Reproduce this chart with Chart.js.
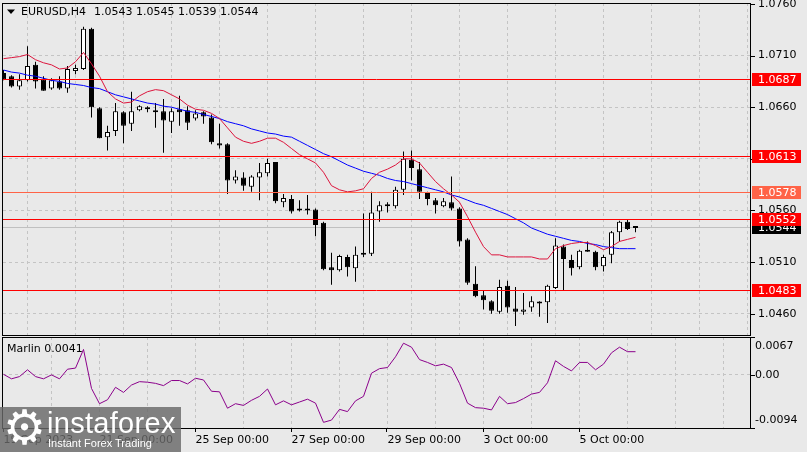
<!DOCTYPE html>
<html>
<head>
<meta charset="utf-8">
<script src="https://cdn.jsdelivr.net/npm/chart.js@4.4.0/dist/chart.umd.min.js"></script>
<style>
  html, body { margin: 0; padding: 0; background: #e9e9e9; }
  #wrap { position: relative; width: 807px; height: 452px; overflow: hidden; background: #e9e9e9; }
  #mainBox { position: absolute; left: 0; top: 0; width: 807px; height: 337px; }
  #subBox { position: absolute; left: 0; top: 337px; width: 807px; height: 115px; }
  #logo {
    position: absolute; left: 0; top: 407px; width: 181px; height: 45px;
    background: rgba(105, 105, 105, 0.82); color: #fff;
    font-family: "Liberation Sans", Arial, sans-serif;
  }
  #logo .gear { position: absolute; left: 3px; top: -6px; font-family: "DejaVu Sans"; font-size: 48px; line-height: 52px; }
  #logo .name { position: absolute; left: 47px; top: 0px; font-size: 29px; line-height: 32px; letter-spacing: 0.3px; }
  #logo .sub { position: absolute; left: 48px; top: 29px; font-size: 11px; line-height: 14px; }
</style>
</head>
<body>
<div id="wrap">
  <div id="mainBox"><canvas id="mainChart"></canvas></div>
  <div id="subBox"><canvas id="subChart"></canvas></div>
  <div id="logo"><span class="gear">⚙</span><span class="name">instaforex</span><span class="sub">Instant Forex Trading</span></div>
</div>
<script>
// EURUSD H4 candles, 19 Sep 2023 00:00 onwards (one entry per bar)
const opens = [
  1.0693, 1.0690, 1.0680, 1.0686, 1.0701, 1.0687, 1.0678, 1.0685, 1.0678, 1.0695,
  1.0697, 1.0736, 1.0659, 1.0631, 1.0637, 1.0655, 1.0644, 1.0657, 1.0660, 1.0657,
  1.0656, 1.0646, 1.0658, 1.0657, 1.0649, 1.0655, 1.0650, 1.0625, 1.0624, 1.0589,
  1.0592, 1.0583, 1.0592, 1.0596, 1.0607, 1.0568, 1.0571, 1.0561, 1.0561, 1.0561,
  1.0548, 1.0505, 1.0502, 1.0515, 1.0504, 1.0519, 1.0518, 1.0559, 1.0564, 1.0564,
  1.0580, 1.0609, 1.0600, 1.0577, 1.0570, 1.0564, 1.0568, 1.0562, 1.0532, 1.0489,
  1.0478, 1.0472, 1.0462, 1.0487, 1.0465, 1.0462, 1.0466, 1.0471, 1.0471, 1.0485,
  1.0525, 1.0512, 1.0505, 1.0522, 1.0520, 1.0506, 1.0517, 1.0539, 1.0549, 1.0543
];
const highs = [
  1.0696, 1.0691, 1.0692, 1.0719, 1.0704, 1.0690, 1.0688, 1.0690, 1.0700, 1.0701,
  1.0738, 1.0737, 1.0660, 1.0642, 1.0664, 1.0656, 1.0675, 1.0662, 1.0661, 1.0664,
  1.0668, 1.0659, 1.0671, 1.0661, 1.0657, 1.0656, 1.0653, 1.0644, 1.0625, 1.0599,
  1.0597, 1.0594, 1.0606, 1.0610, 1.0607, 1.0576, 1.0575, 1.0570, 1.0575, 1.0562,
  1.0549, 1.0519, 1.0517, 1.0517, 1.0525, 1.0557, 1.0578, 1.0569, 1.0568, 1.0583,
  1.0617, 1.0618, 1.0607, 1.0578, 1.0572, 1.0572, 1.0593, 1.0563, 1.0533, 1.0506,
  1.0482, 1.0473, 1.0493, 1.0492, 1.0486, 1.0480, 1.0477, 1.0472, 1.0488, 1.0533,
  1.0527, 1.0517, 1.0522, 1.0530, 1.0521, 1.0517, 1.0540, 1.0550, 1.0551, 1.0545
];
const lows = [
  1.0686, 1.0679, 1.0677, 1.0685, 1.0678, 1.0676, 1.0677, 1.0677, 1.0674, 1.0692,
  1.0696, 1.0650, 1.0630, 1.0618, 1.0632, 1.0625, 1.0637, 1.0656, 1.0655, 1.0640,
  1.0616, 1.0635, 1.0642, 1.0638, 1.0647, 1.0644, 1.0624, 1.0620, 1.0576, 1.0586,
  1.0579, 1.0578, 1.0570, 1.0593, 1.0567, 1.0563, 1.0557, 1.0559, 1.0556, 1.0535,
  1.0502, 1.0488, 1.0501, 1.0496, 1.0491, 1.0515, 1.0516, 1.0549, 1.0558, 1.0562,
  1.0575, 1.0589, 1.0571, 1.0565, 1.0557, 1.0563, 1.0560, 1.0525, 1.0488, 1.0476,
  1.0464, 1.0460, 1.0460, 1.0461, 1.0448, 1.0459, 1.0462, 1.0457, 1.0451, 1.0484,
  1.0483, 1.0497, 1.0503, 1.0520, 1.0502, 1.0501, 1.0509, 1.0530, 1.0541, 1.0539
];
const closes = [
  1.0687, 1.0680, 1.0686, 1.0700, 1.0685, 1.0676, 1.0686, 1.0678, 1.0697, 1.0698,
  1.0736, 1.0660, 1.0630, 1.0636, 1.0656, 1.0642, 1.0656, 1.0661, 1.0658, 1.0655,
  1.0647, 1.0656, 1.0655, 1.0645, 1.0654, 1.0651, 1.0626, 1.0623, 1.0589, 1.0593,
  1.0584, 1.0593, 1.0597, 1.0606, 1.0569, 1.0572, 1.0559, 1.0560, 1.0560, 1.0546,
  1.0503, 1.0502, 1.0516, 1.0505, 1.0517, 1.0517, 1.0558, 1.0565, 1.0565, 1.0580,
  1.0610, 1.0601, 1.0578, 1.0571, 1.0565, 1.0569, 1.0562, 1.0530, 1.0490, 1.0477,
  1.0473, 1.0463, 1.0486, 1.0466, 1.0462, 1.0464, 1.0472, 1.0470, 1.0487, 1.0526,
  1.0513, 1.0504, 1.0521, 1.0520, 1.0505, 1.0515, 1.0539, 1.0549, 1.0542, 1.0544
];
// fast (red) and slow (blue) moving averages as drawn
const maFast = [
  1.0707, 1.0708, 1.0709, 1.0711, 1.0706, 1.0703, 1.0701, 1.0697, 1.0698, 1.0704,
  1.0713, 1.0702, 1.0690, 1.0675, 1.0668, 1.0664, 1.0665, 1.0671, 1.0675, 1.0677,
  1.0676, 1.0672, 1.0668, 1.0662, 1.0658, 1.0657, 1.0654, 1.0649, 1.0640, 1.0631,
  1.0627, 1.0625, 1.0627, 1.0630, 1.0630, 1.0626, 1.0620, 1.0614, 1.0610, 1.0606,
  1.0597, 1.0584, 1.0580, 1.0578, 1.0579, 1.0581, 1.0591, 1.0597, 1.0600, 1.0604,
  1.0610, 1.0610, 1.0606, 1.0597, 1.0588, 1.0581, 1.0575, 1.0568, 1.0554, 1.0539,
  1.0525, 1.0517, 1.0517, 1.0515, 1.0515, 1.0515, 1.0515, 1.0513, 1.0513, 1.0523,
  1.0526, 1.0528, 1.0529, 1.0529, 1.0526, 1.0522, 1.0525, 1.0530, 1.0532, 1.0534
];
const maSlow = [
  1.0696, 1.0694, 1.0693, 1.0691, 1.0690, 1.0688, 1.0686, 1.0685, 1.0683, 1.0682,
  1.0681, 1.0679, 1.0678, 1.0675, 1.0672, 1.0670, 1.0668, 1.0666, 1.0664, 1.0663,
  1.0661, 1.0660, 1.0658, 1.0656, 1.0655, 1.0653, 1.0651, 1.0649, 1.0646, 1.0644,
  1.0642, 1.0639, 1.0637, 1.0635, 1.0634, 1.0632, 1.0631, 1.0627, 1.0623, 1.0619,
  1.0615, 1.0612, 1.0608, 1.0604, 1.0601, 1.0598, 1.0596, 1.0594, 1.0591, 1.0589,
  1.0588, 1.0586, 1.0584, 1.0582, 1.0580, 1.0578, 1.0575, 1.0573, 1.0570, 1.0567,
  1.0565, 1.0562, 1.0559, 1.0556, 1.0552, 1.0548, 1.0543, 1.0540, 1.0537, 1.0535,
  1.0533, 1.0531, 1.0530, 1.0528, 1.0527, 1.0525, 1.0524, 1.0523, 1.0523, 1.0523
];
// Marlin oscillator (lower window)
const marlin = [
  0.0001, -0.0007, -0.0003, 0.0009, -0.0003, -0.0007, 0.0000, -0.0007, 0.0010, 0.0012,
  0.0045, -0.0024, -0.0051, -0.0044, -0.0022, -0.0031, -0.0018, -0.0012, -0.0013, -0.0015,
  -0.0019, -0.0010, -0.0010, -0.0016, -0.0006, -0.0009, -0.0029, -0.0030, -0.0059, -0.0051,
  -0.0054, -0.0045, -0.0038, -0.0025, -0.0053, -0.0046, -0.0053, -0.0048, -0.0043, -0.0050,
  -0.0084, -0.0080, -0.0061, -0.0065, -0.0046, -0.0038, 0.0003, 0.0011, 0.0013, 0.0032,
  0.0056, 0.0049, 0.0027, 0.0022, 0.0016, 0.0019, 0.0013, -0.0015, -0.0050, -0.0058,
  -0.0059, -0.0062, -0.0038, -0.0051, -0.0049, -0.0042, -0.0034, -0.0031, -0.0014, 0.0025,
  0.0015, 0.0007, 0.0022, 0.0022, 0.0009, 0.0019, 0.0039, 0.0049, 0.0041, 0.0041
];

// horizontal levels drawn on the chart
const levels = [1.0687, 1.0613, 1.0578, 1.0552, 1.0483];
const levelColors = ['#ff0000', '#ff0000', '#ff6347', '#ff0000', '#ff0000'];
const bidPrice = 1.0544;

// axis ticks
const priceTicks = [1.0460, 1.0510, 1.0560, 1.0610, 1.0660, 1.0710, 1.0760];
const marlinTicks = [0.0067, 0, -0.0094];
const timeTickIndex = [0, 12, 24, 36, 48, 60, 72];
const timeTickLabels = ['19 Sep 2023', '21 Sep 00:00', '25 Sep 00:00', '27 Sep 00:00',
  '29 Sep 00:00', '3 Oct 00:00', '5 Oct 00:00'];

const symbolTitle = 'EURUSD,H4';
const PRICE_MIN = 1.04394, PRICE_MAX = 1.07609;
const X_MIN = -0.0625, X_MAX = 93.3125;   // 8 px per bar
const FONT = '11px "DejaVu Sans"';
const GRID = '#c4c4c4';

const gridIdx = [];
for (let i = 6; i < X_MAX; i += 6) gridIdx.push(i);

const idx = opens.map((_, i) => i);

// scales must not push the plot area inward for their edge labels
function noPad(s) {
  s.paddingTop = 0;
  s.paddingBottom = 0;
  s.paddingLeft = 0;
  s.paddingRight = 0;
}

function frame(chart) {
  const { ctx, chartArea: a } = chart;
  ctx.save();
  ctx.strokeStyle = '#000';
  ctx.lineWidth = 1;
  ctx.strokeRect(a.left - 0.5, a.top + 0.5, a.right - a.left + 1, a.bottom - a.top);
  ctx.restore();
}

function rightTicks(chart, values) {
  const { ctx, chartArea: a, scales } = chart;
  ctx.save();
  ctx.strokeStyle = '#000';
  ctx.lineWidth = 1;
  values.forEach(v => {
    const y = Math.round(scales.y.getPixelForValue(v)) + 0.5;
    ctx.beginPath();
    ctx.moveTo(a.right, y);
    ctx.lineTo(a.right + 5, y);
    ctx.stroke();
  });
  ctx.restore();
}

// ---------- main price window ----------
const mainPlugin = {
  id: 'mainDecor',
  beforeDatasetsDraw(chart) {
    const { ctx, chartArea: a, scales } = chart;
    const y = Math.round(scales.y.getPixelForValue(bidPrice)) + 0.5;
    ctx.save();
    ctx.strokeStyle = '#c0c0c0';
    ctx.lineWidth = 1;
    ctx.beginPath();
    ctx.moveTo(a.left, y);
    ctx.lineTo(a.right, y);
    ctx.stroke();
    ctx.restore();
  },
  afterDatasetsDraw(chart) {
    const { ctx, chartArea: a, scales } = chart;
    ctx.save();
    ctx.lineWidth = 1;
    levels.forEach((v, k) => {
      const y = Math.round(scales.y.getPixelForValue(v)) + 0.5;
      ctx.strokeStyle = levelColors[k];
      ctx.beginPath();
      ctx.moveTo(a.left, y);
      ctx.lineTo(a.right, y);
      ctx.stroke();
    });
    ctx.restore();
  },
  afterDraw(chart) {
    const { ctx, chartArea: a, scales } = chart;
    frame(chart);
    rightTicks(chart, priceTicks);

    // price boxes on the right scale
    ctx.save();
    ctx.font = FONT;
    ctx.textBaseline = 'middle';
    const box = (v, bg) => {
      const y = Math.round(scales.y.getPixelForValue(v));
      ctx.fillStyle = bg;
      ctx.fillRect(a.right + 2, y - 6, 49, 13);
      ctx.fillStyle = '#fff';
      ctx.fillText(v.toFixed(4), a.right + 8, y + 1);
    };
    box(bidPrice, '#000');
    levels.forEach((v, k) => box(v, levelColors[k]));
    ctx.restore();

    // title line
    ctx.save();
    ctx.fillStyle = '#000';
    ctx.beginPath();
    ctx.moveTo(7, 9.5);
    ctx.lineTo(15, 9.5);
    ctx.lineTo(11, 14);
    ctx.closePath();
    ctx.fill();
    ctx.font = FONT;
    ctx.textBaseline = 'middle';
    ctx.fillText(symbolTitle, 21, 12.5);
    const last = opens.length - 1;
    ctx.fillText([opens[last], highs[last], lows[last], closes[last]].map(v => v.toFixed(4)).join(' '), 94, 12.5);
    ctx.restore();
  }
};

new Chart(document.getElementById('mainChart'), {
  type: 'bar',
  data: {
    datasets: [
      {
        type: 'line', label: 'MA fast',
        data: idx.map(i => ({ x: i, y: maFast[i] })),
        borderColor: '#dc143c', borderWidth: 1, pointRadius: 0, tension: 0, order: 1
      },
      {
        type: 'line', label: 'MA slow',
        data: idx.map(i => ({ x: i, y: maSlow[i] })),
        borderColor: '#0000ff', borderWidth: 1, pointRadius: 0, tension: 0, order: 2
      },
      {
        label: 'body',
        data: idx.map(i => ({ x: i, y: [opens[i], closes[i]] })),
        backgroundColor: idx.map(i => closes[i] >= opens[i] ? '#ffffff' : '#000000'),
        borderColor: '#000', borderWidth: 1, borderSkipped: false,
        barThickness: 5, minBarLength: 2, grouped: false, inflateAmount: 0, order: 3
      },
      {
        label: 'wick',
        data: idx.map(i => ({ x: i, y: [lows[i], highs[i]] })),
        backgroundColor: '#000', borderWidth: 0,
        barThickness: 1, grouped: false, inflateAmount: 0, order: 4
      }
    ]
  },
  options: {
    responsive: true,
    maintainAspectRatio: false,
    animation: false,
    devicePixelRatio: 1,
    events: [],
    layout: { autoPadding: false, padding: { left: 3, top: 3, right: 0, bottom: 2 } },
    plugins: { legend: { display: false }, tooltip: { enabled: false } },
    scales: {
      x: {
        type: 'linear', min: X_MIN, max: X_MAX, offset: false,
        afterFit: s => { s.height = 0; noPad(s); },
        afterBuildTicks: s => { s.ticks = gridIdx.map(v => ({ value: v })); },
        ticks: { display: false },
        grid: { color: GRID, drawTicks: false },
        border: { display: false, dash: [3, 3] }
      },
      y: {
        position: 'right', min: PRICE_MIN, max: PRICE_MAX,
        afterFit: s => { s.width = 57; noPad(s); },
        afterBuildTicks: s => { s.ticks = priceTicks.map(v => ({ value: v })); },
        ticks: { padding: 8, color: '#000', font: { family: 'DejaVu Sans', size: 11 }, callback: v => v.toFixed(4) },
        grid: { color: GRID, drawTicks: false },
        border: { display: false, dash: [3, 3] }
      }
    }
  },
  plugins: [mainPlugin]
});

// ---------- Marlin window ----------
const subPlugin = {
  id: 'subDecor',
  afterDraw(chart) {
    const { ctx, chartArea: a, scales } = chart;
    frame(chart);
    rightTicks(chart, marlinTicks);

    ctx.save();
    ctx.font = FONT;
    ctx.fillStyle = '#000';
    ctx.textBaseline = 'middle';
    marlinTicks.forEach(v => {
      let y = scales.y.getPixelForValue(v);
      y = Math.min(Math.max(y, a.top + 9), a.bottom - 7.5);
      ctx.fillText(v === 0 ? '0.00' : v.toFixed(4), a.right + 5, y);
    });
    ctx.fillText('Marlin ' + marlin[marlin.length - 1].toFixed(4), 7, 12);

    // time ticks below the window
    ctx.strokeStyle = '#000';
    ctx.lineWidth = 1;
    timeTickIndex.forEach(i => {
      const x = Math.round(scales.x.getPixelForValue(i)) - 0.5;
      ctx.beginPath();
      ctx.moveTo(x, a.bottom);
      ctx.lineTo(x, a.bottom + 4);
      ctx.stroke();
    });
    ctx.restore();
  }
};

new Chart(document.getElementById('subChart'), {
  type: 'line',
  data: {
    datasets: [{
      label: 'Marlin',
      data: idx.map(i => ({ x: i, y: marlin[i] })),
      borderColor: '#8b008b', borderWidth: 1, pointRadius: 0, tension: 0
    }]
  },
  options: {
    responsive: true,
    maintainAspectRatio: false,
    animation: false,
    devicePixelRatio: 1,
    events: [],
    layout: { autoPadding: false, padding: { left: 3, top: 0, right: 0, bottom: 0 } },
    plugins: { legend: { display: false }, tooltip: { enabled: false } },
    scales: {
      x: {
        type: 'linear', min: X_MIN, max: X_MAX, offset: false,
        afterFit: s => { s.height = 24; noPad(s); },
        afterBuildTicks: s => { s.ticks = [0].concat(gridIdx).map(v => ({ value: v })); },
        ticks: {
          display: true, autoSkip: false, maxRotation: 0, align: 'start', padding: 6,
          color: '#000', font: { family: 'DejaVu Sans', size: 11 },
          callback: v => {
            const k = timeTickIndex.indexOf(Math.round(v));
            return k >= 0 ? timeTickLabels[k] : '';
          }
        },
        grid: { color: c => (c.tick && c.tick.value === 0 ? 'transparent' : GRID), drawTicks: false },
        border: { display: false, dash: [3, 3] }
      },
      y: {
        position: 'right', min: -0.0094, max: 0.0067,
        afterFit: s => { s.width = 57; noPad(s); },
        afterBuildTicks: s => { s.ticks = marlinTicks.map(v => ({ value: v })); },
        ticks: { display: false },
        grid: { color: c => (c.tick && c.tick.value === 0 ? GRID : 'transparent'), drawTicks: false },
        border: { display: false, dash: [3, 3] }
      }
    }
  },
  plugins: [subPlugin]
});
</script>
</body>
</html>
